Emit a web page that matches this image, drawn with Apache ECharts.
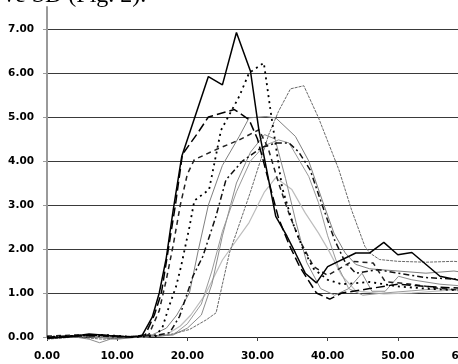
<!DOCTYPE html>
<html>
<head>
<meta charset="utf-8">
<script src="https://cdn.jsdelivr.net/npm/echarts@6/dist/echarts.min.js"></script>
<style>
  html, body { margin: 0; padding: 0; background: #fff; }
  #chart { width: 458px; height: 364px; }
</style>
</head>
<body>
<div id="chart"></div>
<script>
// time axis ticks (value axis 0..60, step 10)
const xTicks = [0, 10, 20, 30, 40, 50, 60];
const yTicks = [0, 1, 2, 3, 4, 5, 6, 7];

// black curves
const solidBlack = [[0,-0.03],[3,0],[6,0.07],[9,0.03],[12,0],[13.5,0.02],[15,0.45],[16,1.0],[17,1.8],[18,2.9],[19.2,4.1],[23,5.92],[25,5.73],[27,6.92],[29,6.04],[30.2,4.7],[32.6,2.74],[34.2,2.29],[35.4,1.91],[36.8,1.45],[38.4,1.23],[40,1.6],[44,1.91],[46,1.91],[48,2.15],[50,1.87],[52,1.92],[56,1.38],[60,1.25]];
const dottedBlack = [[0,0],[4,0.03],[8,0.05],[12,0],[15.5,0.02],[16.5,0.24],[17.4,0.7],[18.4,1.15],[19.1,1.6],[20.3,2.5],[21,3.1],[23.1,3.35],[24.8,4.7],[27.4,5.47],[28.8,6.0],[30.9,6.23],[31.9,5.1],[33.5,3.4],[35,2.6],[36.5,2.0],[38,1.55],[40,1.3],[42,1.2],[46,1.25],[50,1.15],[54,1.1],[60,1.05]];
const dashBlack = [[0,-0.02],[4,0.02],[8,0.04],[12,0],[14,0.05],[15.3,0.5],[16.3,1.0],[17.3,2.0],[18.3,3.0],[19.3,4.15],[21.5,4.64],[23,5.0],[26.7,5.17],[28.8,4.94],[30,4.5],[31.5,3.6],[33,2.7],[34.5,2.1],[36,1.6],[38.4,1.0],[40.3,0.86],[42,1.0],[46,1.1],[50,1.2],[54,1.15],[60,1.1]];
const dashBlack2 = [[0,0.02],[5,0.05],[10,0.02],[13,0],[14.5,0.05],[16,0.6],[17,1.3],[18,2.1],[19,3.0],[20,3.7],[21,4.03],[24.1,4.26],[27.4,4.48],[30.2,4.71],[31.5,4.3],[33,3.5],[34.5,2.8],[36,2.2],[38,1.6],[40,1.4],[43.5,1.72],[46.5,1.68],[48.2,1.26],[52.4,1.19],[55.7,1.11],[60,1.05]];
const dashDotBlack = [[0,0],[5,0.04],[10,0],[13,0.02],[16,0.05],[17.5,0.1],[18.9,0.47],[20.8,1.38],[22.2,1.83],[24,2.7],[25.5,3.57],[27.8,3.99],[30.5,4.3],[32.6,4.41],[34.5,4.41],[35.9,4.2],[37.5,3.8],[39,3.1],[41,2.2],[42.5,1.7],[44,1.45],[47.2,1.53],[50,1.45],[54,1.35],[60,1.3]];

// grey curves
const greyPeak = [[0,-0.05],[4,0],[8,-0.05],[12,0],[17.4,0.05],[20.3,0.17],[22.7,0.39],[24.1,0.55],[25,1.2],[26,1.91],[29,3.3],[31.6,4.6],[33,5.13],[34.7,5.64],[36.6,5.71],[38.7,4.98],[41.6,3.8],[43.4,2.89],[45.3,2.06],[46,1.91],[47.4,1.76],[50,1.72],[54,1.7],[58,1.72],[60,1.69]];
const greyDotted = [[0,0],[5,0.03],[10,-0.05],[13,0],[15,0.05],[17,0.2],[18.5,0.5],[20.3,1.0],[21.6,2.0],[23,3.0],[25,3.9],[27.4,4.56],[28.8,4.98],[31.2,5.01],[32.6,4.98],[35.4,4.56],[37.3,4.0],[39.2,3.12],[40.9,2.36],[42.5,1.91],[44,1.65],[46,1.55],[50,1.5],[54,1.45],[58,1.5],[60,1.45]];
const greyMid = [[0,-0.02],[5,0.02],[10,0],[14,0],[18,0.05],[20,0.3],[22,0.75],[23.5,1.5],[25,2.4],[27,3.3],[29,4.0],[31,4.35],[33,4.48],[34.5,4.41],[37.3,3.65],[38.7,3.05],[40,2.3],[41.5,1.6],[43,1.1],[45,0.95],[48,1.0],[52,1.05],[56,1.1],[60,1.05]];
const greyLight = [[0,-0.03],[5,0.02],[10,-0.03],[14,0],[17,0.05],[19,0.25],[20.5,0.5],[22.5,0.95],[25,1.75],[28.8,2.6],[31,3.3],[32.6,3.62],[34.9,3.35],[36.8,2.82],[38.7,2.36],[40.1,1.98],[42,1.4],[44,1.05],[48,0.98],[52,1.0],[56,1.05],[60,1.1]];
const greyDip = [[0,-0.02],[4,0],[6,-0.05],[7.5,-0.13],[9,-0.05],[12,0],[16,0.02],[18,0.05],[20,0.2],[22,0.5],[23.5,1.2],[25,2.3],[27,3.5],[29,4.2],[31,4.6],[32.5,4.5],[34,3.6],[35.5,2.6],[37,1.7],[39,1.1],[41,0.95],[43,1.1],[44.9,1.45],[46.3,1.04],[48.2,1.04],[50.1,1.38],[52,1.3],[56,1.2],[60,1.15]];

// line looks, in the order the curves are listed
const curves = [
  { data: greyLight,    color: '#bdbdbd', width: 1.2, type: 'solid' },
  { data: greyDip,      color: '#8c8c8c', width: 1,   type: 'solid' },
  { data: greyMid,      color: '#999999', width: 1,   type: 'solid' },
  { data: greyDotted,   color: '#808080', width: 1,   type: 'solid' },
  { data: greyPeak,     color: '#6a6a6a', width: 1,   type: [3, 1] },
  { data: dashDotBlack, color: '#111111', width: 1.5, type: [6, 3, 2, 3] },
  { data: dashBlack2,   color: '#222222', width: 1.5, type: [5, 4] },
  { data: dashBlack,    color: '#000000', width: 1.5, type: [9, 4] },
  { data: dottedBlack,  color: '#000000', width: 1.8, type: [2, 4] },
  { data: solidBlack,   color: '#000000', width: 1.5, type: 'solid' }
];

const chart = echarts.init(document.getElementById('chart'), null, { renderer: 'canvas' });

const labelStyle = {
  color: '#000',
  fontFamily: 'DejaVu Sans',
  fontWeight: 'bold',
  fontSize: 10.5
};

const option = {
  animation: false,
  backgroundColor: '#fff',
  title: {
    text: 've SD (Fig. 2).',
    left: -2,
    top: -21,
    textStyle: { fontFamily: 'Liberation Serif', fontWeight: 'normal', fontSize: 24, color: '#000' }
  },
  grid: { left: 47, top: 7, right: -10, bottom: 27, outerBoundsMode: 'none' },
  xAxis: {
    type: 'value',
    min: xTicks[0],
    max: xTicks[xTicks.length - 1],
    interval: 10,
    axisLine: { show: true, onZero: false, lineStyle: { color: '#222', width: 1 } },
    axisTick: { show: true, inside: false, length: 4, lineStyle: { color: '#444' } },
    axisLabel: { ...labelStyle, margin: 14, formatter: v => v.toFixed(2) },
    splitLine: { show: false }
  },
  yAxis: {
    type: 'value',
    min: yTicks[0],
    max: 7.5,
    interval: 1,
    axisLine: { show: true, lineStyle: { color: '#9a9a9a', width: 2 } },
    axisTick: { show: true, inside: false, length: 4, lineStyle: { color: '#9a9a9a' } },
    axisLabel: {
      ...labelStyle,
      margin: 13,
      showMaxLabel: false,
      formatter: v => (yTicks.includes(v) ? v.toFixed(2) : '')
    },
    splitLine: { show: true, showMaxLine: false, showMinLine: false, lineStyle: { color: '#3a3a3a', width: 1 } }
  },
  series: curves.map(c => ({
    type: 'line',
    data: c.data,
    symbol: 'none',
    clip: false,
    lineStyle: { color: c.color, width: c.width, type: c.type }
  }))
};

chart.setOption(option);
</script>
</body>
</html>
